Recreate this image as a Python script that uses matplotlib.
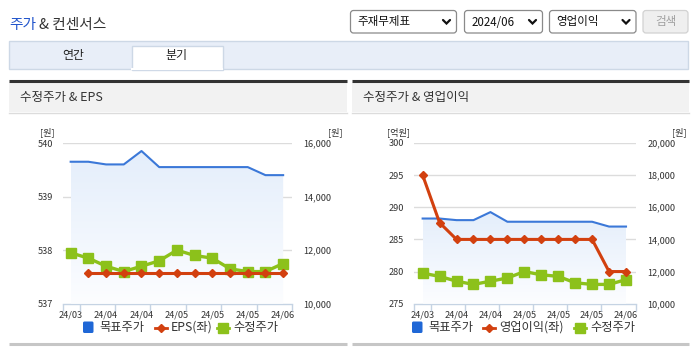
import numpy as np
import matplotlib
matplotlib.use("Agg")
import matplotlib.pyplot as plt
from matplotlib.patches import Rectangle, FancyBboxPatch, Polygon
from matplotlib.lines import Line2D
from matplotlib.colors import LinearSegmentedColormap

plt.rcParams['font.family'] = ['Noto Sans CJK KR', 'DejaVu Sans']

W, H = 695, 349

# weekly periods (labels shown on every other point)
periods = ["24/03", "24/03", "24/04", "24/04", "24/04", "24/04", "24/05",
           "24/05", "24/05", "24/05", "24/05", "24/06", "24/06"]
target_price = [15300, 15300, 15200, 15200, 15700, 15100, 15100,
                15100, 15100, 15100, 15100, 14800, 14800]
adj_price = [11900, 11700, 11400, 11200, 11400, 11600, 12000,
             11800, 11700, 11300, 11200, 11200, 11500]
eps = [np.nan, 537.57, 537.57, 537.57, 537.57, 537.57, 537.57,
       537.57, 537.57, 537.57, 537.57, 537.57, 537.57]
op_income = [295, 287.6, 285, 285, 285, 285, 285, 285, 285, 285, 285, 280, 280]

eps_ticks = [537, 538, 539, 540]
op_ticks = [275, 280, 285, 290, 295, 300]
price_ticks_left = [10000, 12000, 14000, 16000]
price_ticks_right = [10000, 12000, 14000, 16000, 18000, 20000]

C_BLUE = "#3b78d8"
C_BLUE_SOLID = "#1f67d6"
C_RED = "#d2400f"
C_GREEN = "#8cc11b"
C_TEXT = "#333333"
C_GRID = "#dcdcdc"
C_AXIS = "#c5d3e3"

fig = plt.figure(figsize=(W / 100, H / 100), dpi=100)
bg = fig.add_axes([0, 0, 1, 1])
bg.set_xlim(0, W)
bg.set_ylim(H, 0)
bg.axis("off")
bg.set_zorder(0)

# page title
bg.text(9.5, 25, "주가", color="#2255cc", fontsize=10.6, va="center", ha="left")
bg.text(39, 25, "& 컨센서스", color="#333333", fontsize=10.6, va="center", ha="left")

# select boxes
def select_box(x0, x1, label):
    bg.add_patch(FancyBboxPatch((x0, 10.5), x1 - x0, 22.5,
                                boxstyle="round,pad=0,rounding_size=3",
                                fc="white", ec="#8a8a8a", lw=0.9))
    bg.text(x0 + 7, 22, label, fontsize=8.3, color="#111111", va="center", ha="left")
    cx = x1 - 10
    bg.plot([cx - 3.5, cx, cx + 3.5], [20, 23.5, 20], color="#111111", lw=1.6,
            solid_capstyle="round", solid_joinstyle="miter")

select_box(350.5, 456.5, "주재무제표")
select_box(464.5, 542.5, "2024/06")
select_box(549.5, 636, "영업이익")
bg.add_patch(FancyBboxPatch((643, 10.5), 45, 22.5,
                            boxstyle="round,pad=0,rounding_size=3",
                            fc="#efefef", ec="#d2d2d2", lw=0.9))
bg.text(665.5, 21.5, "검색", fontsize=8.3, color="#a0a0a0", va="center", ha="center")

# tab bar
bg.add_patch(Rectangle((9, 40.5), 679, 28.5, fc="#e8eef8", ec="#cdd8e6", lw=1))
bg.add_patch(Rectangle((131.5, 45.5), 91, 24, fc="white", ec="#cdd8e6", lw=1))
bg.plot([132, 222], [69, 69], color="white", lw=1.5)
bg.text(73, 56, "연간", fontsize=8.6, color="#222222", va="center", ha="center")
bg.text(176.5, 56, "분기", fontsize=8.6, color="#222222", va="center", ha="center")

# panel frames
def panel(x0, x1, title):
    bg.add_patch(Rectangle((x0, 82), x1 - x0, 30, fc="#f2f2f2", ec="none"))
    bg.plot([x0, x1], [81, 81], color="#333333", lw=2.2, solid_capstyle="butt")
    bg.plot([x0, x1], [112.5, 112.5], color="#dcdcdc", lw=1)
    bg.plot([x0, x1], [343.5, 343.5], color="#c6c6c6", lw=2.2, solid_capstyle="butt")
    bg.text(x0 + 11, 97.5, title, fontsize=9, color="#333333", va="center", ha="left")

panel(9, 347, "수정주가 & EPS")
panel(352, 689, "수정주가 & 영업이익")


def px_axes(l, t, r, b):
    return fig.add_axes([l / W, 1 - b / H, (r - l) / W, (b - t) / H])


def fmt_thousands(v):
    return f"{int(v):,}"


def draw_chart(box, left_ticks, left_unit, right_ticks, xlim,
               left_series, left_label, legend_x):
    l, t, r, b = box
    ax = px_axes(l, t, r, b)
    ax2 = ax.twinx()
    ax.set_zorder(2)
    ax2.set_zorder(3)
    ax2.patch.set_visible(False)
    ax.patch.set_visible(False)

    x = np.arange(len(periods))
    ax.set_xlim(*xlim)
    ax.set_ylim(left_ticks[0], left_ticks[-1])
    ax2.set_ylim(right_ticks[0], right_ticks[-1])

    # gridlines
    for v in left_ticks[1:]:
        ax.axhline(v, color=C_GRID, lw=1, zorder=1)

    # target price area with vertical gradient
    grad = np.linspace(0, 1, 256).reshape(-1, 1)
    cmap = LinearSegmentedColormap.from_list("g", ["#fcfdff", "#e4eefb"])
    ytop = max(target_price)
    im = ax2.imshow(grad, cmap=cmap, aspect="auto", origin="lower",
                    extent=(x[0], x[-1], right_ticks[0], ytop), zorder=1,
                    interpolation="bilinear")
    poly_pts = [(x[0], right_ticks[0])] + list(zip(x, target_price)) + [(x[-1], right_ticks[0])]
    clip = Polygon(poly_pts, closed=True, transform=ax2.transData, fc="none", ec="none")
    ax2.add_patch(clip)
    im.set_clip_path(clip)
    ax2.plot(x, target_price, color=C_BLUE, lw=1.5, zorder=3)

    # adjusted price
    ax2.plot(x, adj_price, color=C_GREEN, lw=2.4, marker="s", ms=7.5,
             mec=C_GREEN, mfc=C_GREEN, zorder=4)
    # left-axis series drawn in the top axes using the left scale
    ax2.plot(x, left_series, color=C_RED, lw=2.2, marker="D", ms=4.5,
             mec=C_RED, mfc=C_RED, zorder=5, transform=ax.transData)

    # axes styling
    for a in (ax, ax2):
        for s in a.spines.values():
            s.set_visible(False)
    ax.spines["bottom"].set_visible(True)
    ax.spines["bottom"].set_color(C_AXIS)
    ax.spines["bottom"].set_linewidth(1)

    ax.set_yticks(left_ticks)
    ax.set_yticklabels([str(v) for v in left_ticks])
    ax.tick_params(axis="y", length=0, pad=7, labelsize=6.6, labelcolor=C_TEXT)
    ax2.set_yticks(right_ticks)
    ax2.set_yticklabels([fmt_thousands(v) for v in right_ticks])
    ax2.tick_params(axis="y", length=0, pad=8, labelsize=6.6, labelcolor=C_TEXT)

    minor = [xlim[0]] + list(np.arange(0.5, len(periods) - 2, 2.0)) + [xlim[1]]
    ax.set_xticks(x[::2])
    ax.set_xticklabels(periods[::2])
    ax.set_xticks(minor, minor=True)
    ax.tick_params(axis="x", which="major", length=0, pad=5, labelsize=6.6,
                   labelcolor=C_TEXT)
    ax.tick_params(axis="x", which="minor", length=5, width=1, color=C_AXIS)

    # axis units
    bg.text(l - 15, 132.5, left_unit, fontsize=6.6, color=C_TEXT, ha="center", va="center")
    bg.text(r + 43, 132.5, "[원]", fontsize=6.6, color=C_TEXT, ha="center", va="center")

    # legend
    lx = legend_x
    bg.add_patch(FancyBboxPatch((lx[0], 321.5), 10.5, 11.5,
                                boxstyle="round,pad=0,rounding_size=1.5",
                                fc=C_BLUE_SOLID, ec="none"))
    bg.text(lx[0] + 16, 327.5, "목표주가", fontsize=8.8, color=C_TEXT, va="center", ha="left")
    bg.add_line(Line2D([lx[1], lx[1] + 12], [327.5, 327.5], color=C_RED, lw=2))
    bg.add_line(Line2D([lx[1] + 6], [327.5], color=C_RED, marker="D", ms=4.5, lw=0))
    bg.text(lx[1] + 16, 327.5, left_label, fontsize=8.8, color=C_TEXT, va="center", ha="left")
    bg.add_line(Line2D([lx[2], lx[2] + 12], [327.5, 327.5], color=C_GREEN, lw=2))
    bg.add_line(Line2D([lx[2] + 6], [327.5], color=C_GREEN, marker="s", ms=7, lw=0))
    bg.text(lx[2] + 16, 327.5, "수정주가", fontsize=8.8, color=C_TEXT, va="center", ha="left")
    return ax, ax2


draw_chart((62.7, 143, 292, 303.7), eps_ticks, "[원]", price_ticks_left,
           (-0.45, 12.5), eps, "EPS(좌)", (83, 155, 217))
draw_chart((414, 143, 636, 303.7), op_ticks, "[억원]", price_ticks_right,
           (-0.51, 12.59), op_income, "영업이익(좌)", (412, 483, 574))

fig.savefig("out.png", dpi=100, facecolor="white")
